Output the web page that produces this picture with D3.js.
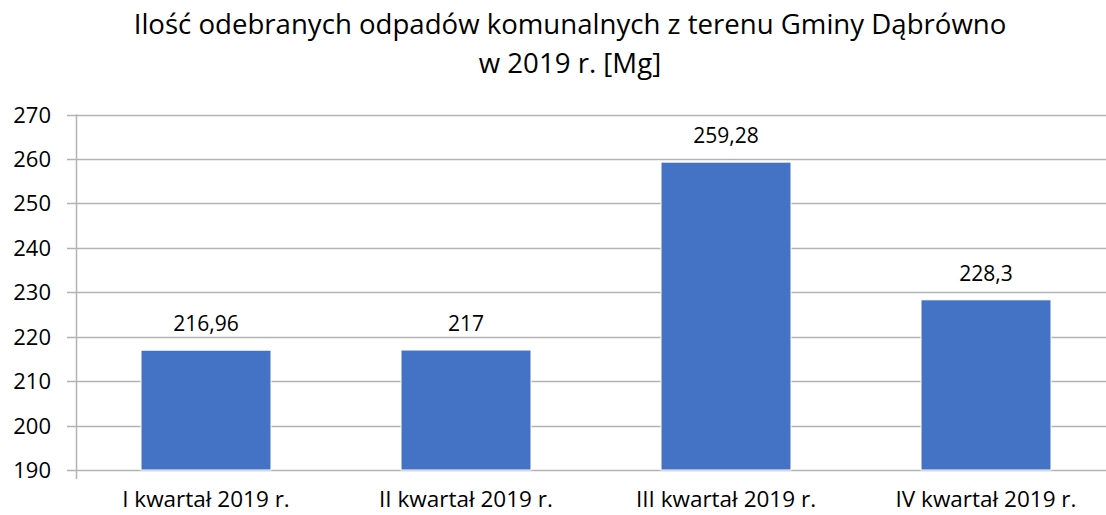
<!DOCTYPE html>
<html>
<head>
<meta charset="utf-8">
<script src="https://cdn.jsdelivr.net/npm/d3@7"></script>
<style>
  body { margin: 0; background: #fff; }
  text { font-family: "Open Sans", sans-serif; fill: #000; }
</style>
</head>
<body>
<div id="chart"></div>
<script>
// data
var titleLines = ["Ilość odebranych odpadów komunalnych z terenu Gminy Dąbrówno", "w 2019 r. [Mg]"];
var categories = ["I kwartał 2019 r.", "II kwartał 2019 r.", "III kwartał 2019 r.", "IV kwartał 2019 r."];
var values = [216.96, 217, 259.28, 228.3];
var yTicks = [190, 200, 210, 220, 230, 240, 250, 260, 270];

var width = 1106, height = 515;
var fmt = function (d) { return String(d).replace(".", ","); };

var svg = d3.select("#chart").append("svg")
    .attr("width", width)
    .attr("height", height);

// title
svg.selectAll(".title")
    .data(titleLines)
    .enter().append("text")
    .attr("class", "title")
    .attr("x", 570)
    .attr("y", function (d, i) { return 34 + i * 39; })
    .attr("text-anchor", "middle")
    .style("font-size", "27.6px")
    .text(function (d) { return d; });

var x = d3.scaleBand()
    .domain(categories)
    .range([76, 1116])
    .paddingInner(0.5)
    .paddingOuter(0.25);

var y = d3.scaleLinear()
    .domain([190, 270])
    .range([470, 114.5]);

// gridlines
svg.append("g")
    .selectAll("line")
    .data(yTicks)
    .enter().append("line")
    .attr("x1", 67)
    .attr("x2", width)
    .attr("y1", function (d) { return Math.round(y(d)) + 0.5; })
    .attr("y2", function (d) { return Math.round(y(d)) + 0.5; })
    .attr("stroke", "#b3b3b3")
    .attr("stroke-width", 1.5);

// y tick labels
svg.append("g")
    .selectAll("text")
    .data(yTicks)
    .enter().append("text")
    .attr("x", 51)
    .attr("y", function (d) { return y(d) + 8; })
    .attr("text-anchor", "end")
    .style("font-size", "22px")
    .text(function (d) { return d; });

// vertical axis line
svg.append("line")
    .attr("x1", 76.5).attr("x2", 76.5)
    .attr("y1", y(270)).attr("y2", 479)
    .attr("stroke", "#b3b3b3")
    .attr("stroke-width", 1.5);

// bars
svg.append("g")
    .selectAll("rect")
    .data(values)
    .enter().append("rect")
    .attr("x", function (d, i) { return x(categories[i]); })
    .attr("width", x.bandwidth())
    .attr("y", function (d) { return y(d); })
    .attr("height", function (d) { return y(190) - y(d); })
    .attr("fill", "#4472c4")
    .attr("stroke", "#fff")
    .attr("stroke-width", 1);

// data labels
svg.append("g")
    .selectAll("text")
    .data(values)
    .enter().append("text")
    .attr("x", function (d, i) { return x(categories[i]) + x.bandwidth() / 2; })
    .attr("y", function (d) { return y(d) - 19; })
    .attr("text-anchor", "middle")
    .style("font-size", "21px")
    .text(function (d) { return fmt(d); });

// category labels
svg.append("g")
    .selectAll("text")
    .data(categories)
    .enter().append("text")
    .attr("x", function (d) { return x(d) + x.bandwidth() / 2; })
    .attr("y", 507)
    .attr("text-anchor", "middle")
    .style("font-size", "22.5px")
    .text(function (d) { return d; });
</script>
</body>
</html>
